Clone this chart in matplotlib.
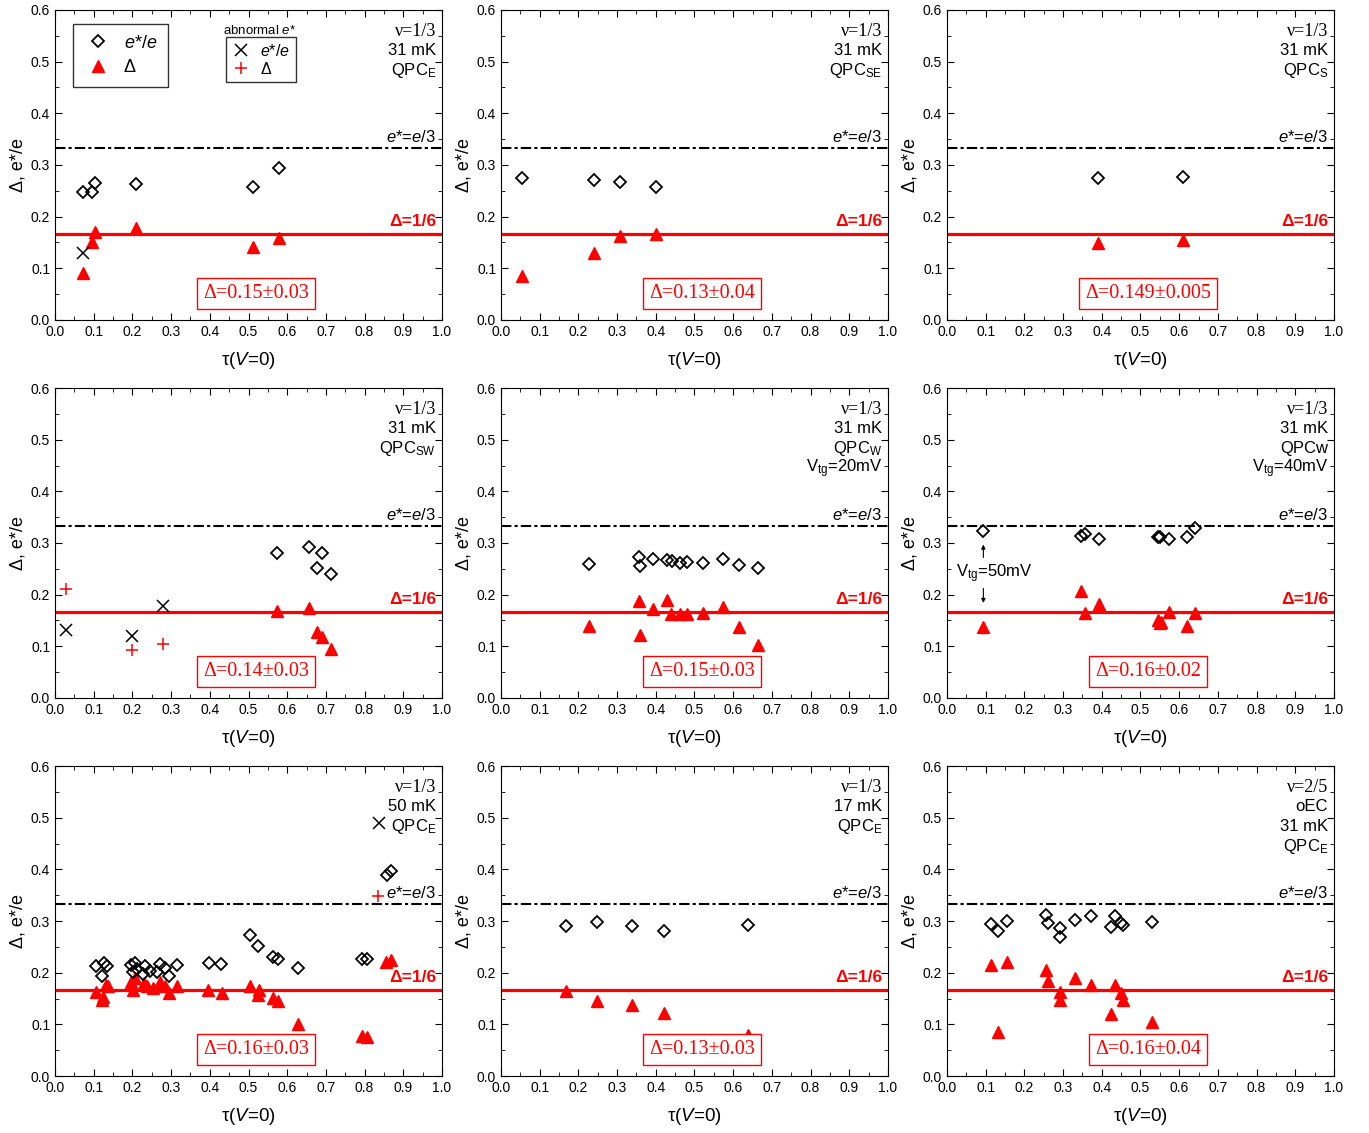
import matplotlib
matplotlib.use('Agg')
import matplotlib.pyplot as plt
from matplotlib.lines import Line2D
import numpy as np

plt.rcParams['font.family'] = 'Liberation Sans'
plt.rcParams['mathtext.fontset'] = 'custom'
plt.rcParams['mathtext.rm'] = 'Liberation Sans'
plt.rcParams['mathtext.it'] = 'Liberation Sans:italic'
plt.rcParams['mathtext.bf'] = 'Liberation Sans:bold'

# ---- data: (tau, e*/e) diamonds, (tau, Delta) triangles, abnormal points ----
# panel 1: nu=1/3, 31 mK, QPC_E
p1_tau = [0.072, 0.095, 0.103, 0.21, 0.512, 0.58]
p1_e = [0.247, 0.247, 0.265, 0.264, 0.258, 0.295]
p1_d = [0.09, 0.15, 0.17, 0.178, 0.142, 0.158]
p1_ab_tau_e = [0.072]
p1_ab_e = [0.13]

# panel 2: QPC_SE
p2_tau = [0.055, 0.24, 0.307, 0.40]
p2_e = [0.274, 0.270, 0.267, 0.258]
p2_d = [0.085, 0.130, 0.163, 0.167]

# panel 3: QPC_S
p3_tau = [0.39, 0.61]
p3_e = [0.275, 0.276]
p3_d = [0.148, 0.155]

# panel 4: QPC_SW
p4_tau_e = [0.573, 0.657, 0.690, 0.677, 0.713]
p4_e = [0.280, 0.293, 0.280, 0.252, 0.240]
p4_tau_d = [0.573, 0.657, 0.677, 0.690, 0.713]
p4_d = [0.168, 0.175, 0.128, 0.118, 0.095]
p4_ab_tau = [0.028, 0.20, 0.28]
p4_ab_e = [0.132, 0.120, 0.178]
p4_ab_d = [0.210, 0.093, 0.105]

# panel 5: QPC_W, Vtg=20mV
p5_tau = [0.228, 0.357, 0.360, 0.394, 0.429, 0.443, 0.463, 0.480, 0.521, 0.573, 0.615, 0.663]
p5_e = [0.260, 0.272, 0.255, 0.269, 0.268, 0.265, 0.261, 0.263, 0.262, 0.269, 0.257, 0.251]
p5_tau_d = [0.228, 0.357, 0.360, 0.394, 0.429, 0.440, 0.463, 0.480, 0.521, 0.573, 0.615, 0.663]
p5_d = [0.140, 0.188, 0.122, 0.173, 0.190, 0.162, 0.162, 0.162, 0.164, 0.177, 0.138, 0.103]

# panel 6: QPC_W, Vtg=40mV
p6_tau_e = [0.094, 0.347, 0.357, 0.394, 0.545, 0.551, 0.574, 0.620, 0.642]
p6_e = [0.323, 0.314, 0.317, 0.308, 0.312, 0.312, 0.307, 0.312, 0.329]
p6_tau_d = [0.094, 0.347, 0.357, 0.394, 0.545, 0.550, 0.554, 0.574, 0.620, 0.642]
p6_d = [0.137, 0.207, 0.164, 0.181, 0.151, 0.146, 0.148, 0.167, 0.140, 0.165]

# panel 7: nu=1/3, 50 mK, QPC_E
p7_tau_e = [0.106, 0.121, 0.127, 0.133, 0.196, 0.207, 0.201, 0.211, 0.233, 0.228, 0.245,
            0.270, 0.263, 0.284, 0.295, 0.314, 0.399, 0.429, 0.504, 0.525, 0.564, 0.577,
            0.629, 0.792, 0.805, 0.857, 0.867]
p7_e = [0.212, 0.194, 0.219, 0.212, 0.215, 0.219, 0.201, 0.208, 0.212, 0.198, 0.204,
        0.217, 0.201, 0.209, 0.194, 0.215, 0.218, 0.216, 0.273, 0.251, 0.231, 0.227,
        0.209, 0.227, 0.227, 0.390, 0.397]
p7_tau_d = [0.106, 0.121, 0.125, 0.132, 0.138, 0.196, 0.202, 0.207, 0.230, 0.237, 0.254,
            0.270, 0.284, 0.295, 0.314, 0.396, 0.431, 0.504, 0.527, 0.525, 0.564, 0.577,
            0.627, 0.792, 0.805, 0.855, 0.867]
p7_d = [0.163, 0.148, 0.152, 0.176, 0.174, 0.182, 0.167, 0.190, 0.180, 0.174, 0.170,
        0.182, 0.174, 0.161, 0.175, 0.167, 0.161, 0.175, 0.167, 0.157, 0.151, 0.146,
        0.101, 0.078, 0.076, 0.220, 0.225]
p7_ab_tau = [0.836]
p7_ab_e = [0.490]
p7_ab_tau_d = [0.834]
p7_ab_d = [0.349]

# panel 8: 17 mK
p8_tau = [0.168, 0.248, 0.339, 0.421, 0.638]
p8_e = [0.290, 0.298, 0.290, 0.281, 0.292]
p8_d = [0.164, 0.145, 0.137, 0.122, 0.079]

# panel 9: nu=2/5 oEC
p9_tau = [0.115, 0.132, 0.156, 0.256, 0.262, 0.291, 0.291, 0.330, 0.371, 0.425, 0.435, 0.449, 0.455, 0.531]
p9_e = [0.294, 0.280, 0.300, 0.312, 0.297, 0.286, 0.270, 0.302, 0.310, 0.288, 0.309, 0.297, 0.292, 0.298]
p9_tau_d = [0.115, 0.132, 0.156, 0.256, 0.262, 0.291, 0.291, 0.330, 0.371, 0.425, 0.435, 0.449, 0.455, 0.531]
p9_d = [0.215, 0.085, 0.220, 0.205, 0.183, 0.163, 0.148, 0.190, 0.176, 0.120, 0.176, 0.161, 0.148, 0.105]

labels = [
    ['ν=1/3', '31 mK', 'QPC$_\\mathrm{E}$'],
    ['ν=1/3', '31 mK', 'QPC$_\\mathrm{SE}$'],
    ['ν=1/3', '31 mK', 'QPC$_\\mathrm{S}$'],
    ['ν=1/3', '31 mK', 'QPC$_\\mathrm{SW}$'],
    ['ν=1/3', '31 mK', 'QPC$_\\mathrm{W}$', 'V$_\\mathrm{tg}$=20mV'],
    ['ν=1/3', '31 mK', 'QPCw', 'V$_\\mathrm{tg}$=40mV'],
    ['ν=1/3', '50 mK', 'QPC$_\\mathrm{E}$'],
    ['ν=1/3', '17 mK', 'QPC$_\\mathrm{E}$'],
    ['ν=2/5', 'oEC', '31 mK', 'QPC$_\\mathrm{E}$'],
]
boxes = ['Δ=0.15±0.03', 'Δ=0.13±0.04', 'Δ=0.149±0.005',
         'Δ=0.14±0.03', 'Δ=0.15±0.03', 'Δ=0.16±0.02',
         'Δ=0.16±0.03', 'Δ=0.13±0.03', 'Δ=0.16±0.04']

e_sets = [(p1_tau, p1_e), (p2_tau, p2_e), (p3_tau, p3_e), (p4_tau_e, p4_e), (p5_tau, p5_e),
          (p6_tau_e, p6_e), (p7_tau_e, p7_e), (p8_tau, p8_e), (p9_tau, p9_e)]
d_sets = [(p1_tau, p1_d), (p2_tau, p2_d), (p3_tau, p3_d), (p4_tau_d, p4_d), (p5_tau_d, p5_d),
          (p6_tau_d, p6_d), (p7_tau_d, p7_d), (p8_tau, p8_d), (p9_tau_d, p9_d)]

fig, axes = plt.subplots(3, 3, figsize=(13.69, 11.33), dpi=100)
plt.subplots_adjust(left=0.0402, right=0.9744, bottom=0.0503, top=0.9912, wspace=0.1525, hspace=0.2197)

for i, ax in enumerate(axes.flat):
    ax.axhline(1/3, color='black', lw=1.5, ls=(0, (5, 1.5, 1.5, 1.5)), zorder=1)
    ax.axhline(1/6, color='red', lw=2.3, zorder=1)
    ax.plot(d_sets[i][0], d_sets[i][1], ls='none', marker='^', ms=8.5, color='red', zorder=3)
    ax.plot(e_sets[i][0], e_sets[i][1], ls='none', marker='D', ms=6.5, mfc='none',
            mec='black', mew=1.3, zorder=4)

    ax.set_xlim(0, 1)
    ax.set_ylim(0, 0.6)
    ax.set_xticks(np.arange(0, 1.01, 0.1))
    ax.set_yticks(np.arange(0, 0.61, 0.1))
    ax.set_xticks(np.arange(0, 1.01, 0.05), minor=True)
    ax.set_yticks(np.arange(0, 0.61, 0.05), minor=True)
    ax.tick_params(which='both', direction='in', top=True, right=True, labelsize=10)
    ax.tick_params(which='major', length=5)
    ax.tick_params(which='minor', length=3)
    ax.set_xticklabels(['%.1f' % v for v in np.arange(0, 1.01, 0.1)])
    ax.set_yticklabels(['%.1f' % v for v in np.arange(0, 0.61, 0.1)])
    ax.set_xlabel('τ($V$=0)', fontsize=13.5, labelpad=8)
    ax.set_ylabel('Δ, e*/e', fontsize=13, labelpad=3)

    ax.text(0.985, 0.355, '$e$*=$e$/3', ha='right', va='center', fontsize=12)
    ax.text(0.985, 0.19, 'Δ=1/6', ha='right', va='center', fontsize=12.5,
            color='red', fontweight='bold')
    ax.text(0.52, 0.052, boxes[i], ha='center', va='center', fontsize=14.5, color='red',
            family='Liberation Serif',
            bbox=dict(boxstyle='square,pad=0.3', fc='white', ec='red', lw=1))

    for k, s in enumerate(labels[i]):
        y = 0.932 - 0.064 * k
        fam = 'Liberation Serif' if k == 0 else 'Liberation Sans'
        fs = 13 if k == 0 else 12
        ax.text(0.985, y, s, transform=ax.transAxes, ha='right', va='center',
                fontsize=fs, family=fam)

# abnormal points
a = axes[0, 0]
a.plot(p1_ab_tau_e, p1_ab_e, ls='none', marker='x', ms=9, color='black', mew=1.1, zorder=5)
a = axes[1, 0]
a.plot(p4_ab_tau, p4_ab_e, ls='none', marker='x', ms=9, color='black', mew=1.1, zorder=5)
a.plot(p4_ab_tau, p4_ab_d, ls='none', marker='+', ms=8, color='red', mew=1.1, zorder=5)
a = axes[2, 0]
a.plot(p7_ab_tau, p7_ab_e, ls='none', marker='x', ms=9, color='black', mew=1.1, zorder=5)
a.plot(p7_ab_tau_d, p7_ab_d, ls='none', marker='+', ms=8, color='red', mew=1.1, zorder=5)

# Vtg=50mV annotation
a = axes[1, 2]
a.annotate('', xy=(0.094, 0.297), xytext=(0.094, 0.272),
           arrowprops=dict(arrowstyle='-|>', color='black', lw=0.8, mutation_scale=6,
                           shrinkA=0, shrinkB=0))
a.annotate('', xy=(0.094, 0.184), xytext=(0.094, 0.212),
           arrowprops=dict(arrowstyle='-|>', color='black', lw=0.8, mutation_scale=6,
                           shrinkA=0, shrinkB=0))
a.text(0.022, 0.241, 'V$_\\mathrm{tg}$=50mV', ha='left', va='center', fontsize=12)

# legends in the first panel
a = axes[0, 0]
h1 = [Line2D([], [], ls='none', marker='D', ms=6.5, mfc='none', mec='black', mew=1.3),
      Line2D([], [], ls='none', marker='^', ms=8.5, color='red')]
leg1 = a.legend(h1, ['$e$*/$e$', 'Δ'], loc='upper left', bbox_to_anchor=(0.047, 0.955),
                frameon=True, fancybox=False, edgecolor='black', fontsize=13,
                handletextpad=0.6, borderpad=0.6, labelspacing=0.4, borderaxespad=0,
                handlelength=1.6)
leg1.get_frame().set_linewidth(1.0)
a.add_artist(leg1)
h2 = [Line2D([], [], ls='none', marker='x', ms=8, color='black', mew=1.1),
      Line2D([], [], ls='none', marker='+', ms=8, color='red', mew=1.1)]
leg2 = a.legend(h2, ['$e$*/$e$', 'Δ'], loc='upper left', bbox_to_anchor=(0.442, 0.913),
                frameon=True, fancybox=False, edgecolor='black', fontsize=11.5,
                handletextpad=0.6, borderpad=0.35, labelspacing=0.2, borderaxespad=0,
                handlelength=1.2)
leg2.get_frame().set_linewidth(1.0)
a.text(0.53, 0.935, 'abnormal $e$*', transform=a.transAxes, ha='center', va='center', fontsize=9.5)

fig.savefig('out.png', dpi=100)
